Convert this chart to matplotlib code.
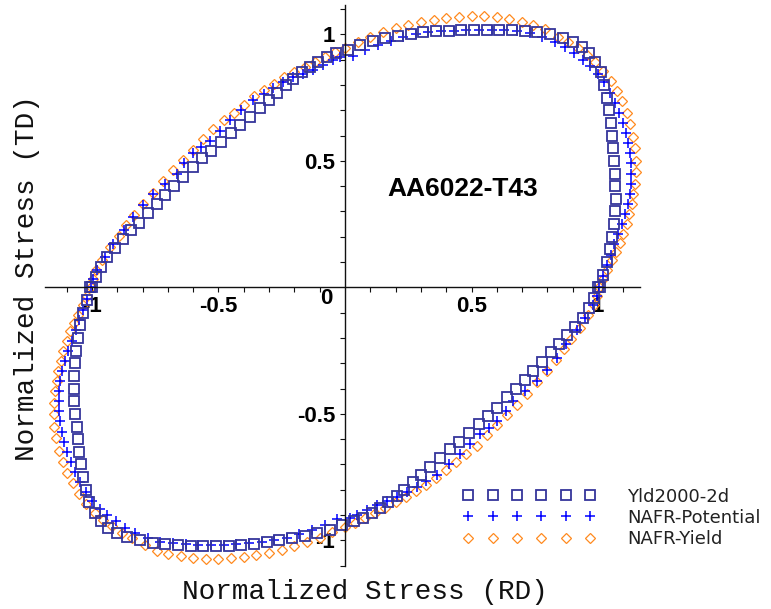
import matplotlib
matplotlib.use("Agg")
import matplotlib.pyplot as plt
from matplotlib.ticker import FixedLocator, NullFormatter
import numpy as np

plt.rcParams["axes.unicode_minus"] = False

# Yld2000-2d (squares): upper half then lower half, going counter-clockwise
yld_upper_x = [1.008, 1.02, 1.035, 1.047, 1.056, 1.063, 1.067, 1.07, 1.069, 1.067,
               1.063, 1.059, 1.055, 1.05, 1.043, 1.035, 1.025, 1.01, 0.99, 0.965,
               0.935, 0.90, 0.86, 0.81, 0.76, 0.71, 0.66, 0.61, 0.56, 0.51,
               0.46, 0.41, 0.36, 0.31, 0.26, 0.21, 0.16, 0.11, 0.06, 0.01,
               -0.035, -0.072, -0.105, -0.138, -0.17, -0.204, -0.235, -0.27, -0.30, -0.336,
               -0.375, -0.415, -0.45, -0.49, -0.53, -0.565, -0.60, -0.64, -0.675, -0.71,
               -0.745, -0.78, -0.815, -0.845, -0.876, -0.91, -0.94, -0.965, -0.985, -1.0]
yld_upper_y = [0.0, 0.05, 0.10, 0.15, 0.20, 0.25, 0.30, 0.35, 0.40, 0.45,
               0.50, 0.55, 0.60, 0.65, 0.70, 0.75, 0.80, 0.85, 0.89, 0.925,
               0.95, 0.97, 0.985, 1.0, 1.008, 1.013, 1.016, 1.018, 1.018, 1.018,
               1.016, 1.014, 1.012, 1.008, 1.003, 0.995, 0.985, 0.972, 0.958, 0.94,
               0.925, 0.91, 0.89, 0.87, 0.85, 0.825, 0.80, 0.77, 0.74, 0.71,
               0.675, 0.64, 0.61, 0.575, 0.54, 0.51, 0.475, 0.435, 0.40, 0.365,
               0.33, 0.295, 0.255, 0.225, 0.19, 0.155, 0.12, 0.08, 0.04, 0.0]
yld_lower_x = [-1.008, -1.02, -1.035, -1.047, -1.056, -1.063, -1.067, -1.07, -1.071, -1.07,
               -1.066, -1.06, -1.055, -1.05, -1.043, -1.035, -1.025, -1.01, -0.99, -0.965,
               -0.935, -0.90, -0.86, -0.81, -0.76, -0.71, -0.66, -0.61, -0.56, -0.51,
               -0.46, -0.41, -0.36, -0.31, -0.26, -0.21, -0.16, -0.11, -0.06, -0.01,
               0.035, 0.072, 0.105, 0.138, 0.17, 0.204, 0.235, 0.27, 0.30, 0.336,
               0.375, 0.415, 0.45, 0.49, 0.53, 0.565, 0.60, 0.64, 0.675, 0.71,
               0.745, 0.78, 0.815, 0.845, 0.876, 0.91, 0.94, 0.965, 0.985, 1.0]
yld_lower_y = [0.0, -0.05, -0.10, -0.15, -0.20, -0.25, -0.30, -0.35, -0.40, -0.45,
               -0.50, -0.55, -0.60, -0.65, -0.70, -0.75, -0.80, -0.85, -0.89, -0.925,
               -0.95, -0.97, -0.985, -1.0, -1.01, -1.016, -1.02, -1.022, -1.024, -1.024,
               -1.022, -1.018, -1.013, -1.008, -1.0, -0.992, -0.982, -0.97, -0.957, -0.94,
               -0.925, -0.91, -0.89, -0.87, -0.85, -0.825, -0.80, -0.77, -0.74, -0.71,
               -0.675, -0.64, -0.61, -0.575, -0.54, -0.51, -0.475, -0.435, -0.40, -0.365,
               -0.33, -0.295, -0.255, -0.225, -0.19, -0.155, -0.12, -0.08, -0.04, 0.0]

# NAFR-Potential (plus)
pot_upper_x = [1.005, 1.02, 1.035, 1.05, 1.065, 1.08, 1.095, 1.107, 1.117, 1.125,
               1.13, 1.132, 1.13, 1.126, 1.12, 1.11, 1.098, 1.083, 1.066, 1.047,
               1.025, 1.0, 0.97, 0.94, 0.905, 0.87, 0.83, 0.78, 0.73, 0.68,
               0.63, 0.58, 0.53, 0.48, 0.43, 0.38, 0.33, 0.28, 0.23, 0.18,
               0.13, 0.08, 0.03,
               -0.02, -0.046, -0.085, -0.125, -0.165, -0.204, -0.245, -0.283, -0.32, -0.362,
               -0.41, -0.455, -0.495, -0.534, -0.57, -0.60, -0.635, -0.665, -0.71, -0.758,
               -0.80, -0.837, -0.875, -0.916, -0.95, -0.98, -0.995]
pot_upper_y = [0.0, 0.045, 0.09, 0.13, 0.17, 0.21, 0.25, 0.29, 0.33, 0.37,
               0.41, 0.45, 0.49, 0.53, 0.57, 0.61, 0.65, 0.69, 0.73, 0.77,
               0.81, 0.845, 0.875, 0.90, 0.925, 0.95, 0.97, 0.99, 1.005, 1.012,
               1.016, 1.018, 1.018, 1.017, 1.015, 1.012, 1.008, 1.0, 0.99, 0.975,
               0.96, 0.94, 0.915,
               0.91, 0.90, 0.88, 0.86, 0.845, 0.83, 0.81, 0.79, 0.765, 0.74,
               0.70, 0.66, 0.62, 0.58, 0.555, 0.53, 0.49, 0.45, 0.41, 0.37,
               0.325, 0.28, 0.225, 0.17, 0.12, 0.07, 0.035]
pot_lower_x = [-1.005, -1.02, -1.035, -1.05, -1.065, -1.08, -1.095, -1.107, -1.117, -1.125,
               -1.13, -1.132, -1.13, -1.126, -1.12, -1.11, -1.098, -1.083, -1.066, -1.047,
               -1.025, -1.0, -0.97, -0.94, -0.905, -0.87, -0.83, -0.78, -0.73, -0.68,
               -0.63, -0.58, -0.53, -0.48, -0.43, -0.38, -0.33, -0.28, -0.23, -0.18,
               -0.13, -0.08, -0.03,
               0.02, 0.046, 0.085, 0.125, 0.165, 0.204, 0.245, 0.283, 0.32, 0.362,
               0.41, 0.455, 0.495, 0.534, 0.57, 0.60, 0.635, 0.665, 0.71, 0.758,
               0.80, 0.837, 0.875, 0.916, 0.95, 0.98, 0.995]
pot_lower_y = [0.0, -0.045, -0.09, -0.13, -0.17, -0.21, -0.25, -0.29, -0.33, -0.37,
               -0.41, -0.45, -0.49, -0.53, -0.57, -0.61, -0.65, -0.69, -0.73, -0.77,
               -0.81, -0.845, -0.875, -0.90, -0.925, -0.95, -0.97, -0.99, -1.005, -1.012,
               -1.016, -1.018, -1.018, -1.017, -1.015, -1.012, -1.008, -1.0, -0.99, -0.975,
               -0.96, -0.94, -0.915,
               -0.91, -0.90, -0.88, -0.86, -0.845, -0.83, -0.81, -0.79, -0.765, -0.74,
               -0.70, -0.66, -0.62, -0.58, -0.555, -0.53, -0.49, -0.45, -0.41, -0.37,
               -0.325, -0.28, -0.225, -0.17, -0.12, -0.07, -0.035]

# NAFR-Yield (diamonds)
nafr_upper_x = [1.005, 1.018, 1.035, 1.054, 1.07, 1.087, 1.10, 1.113, 1.124, 1.133,
                1.14, 1.146, 1.149, 1.15, 1.147, 1.14, 1.128, 1.113, 1.095, 1.075,
                1.05, 1.02, 0.99, 0.955, 0.92, 0.88, 0.84, 0.79, 0.745, 0.70,
                0.65, 0.60, 0.55, 0.50, 0.45, 0.40, 0.35, 0.30, 0.25, 0.20,
                0.15, 0.10, 0.05, 0.0,
                -0.04, -0.08, -0.12, -0.16, -0.20, -0.24, -0.28, -0.32, -0.36, -0.40,
                -0.44, -0.48, -0.52, -0.56, -0.60, -0.64, -0.68, -0.72, -0.76, -0.80,
                -0.835, -0.865, -0.895, -0.93, -0.96, -0.985, -0.998]
nafr_upper_y = [0.0, 0.035, 0.07, 0.108, 0.14, 0.174, 0.21, 0.25, 0.29, 0.33,
                0.37, 0.41, 0.455, 0.50, 0.55, 0.595, 0.645, 0.69, 0.735, 0.775,
                0.815, 0.855, 0.89, 0.92, 0.945, 0.97, 0.99, 1.02, 1.038, 1.05,
                1.06, 1.068, 1.072, 1.072, 1.07, 1.063, 1.057, 1.05, 1.038, 1.024,
                1.008, 0.99, 0.968, 0.947,
                0.93, 0.91, 0.89, 0.87, 0.85, 0.83, 0.805, 0.78, 0.755, 0.72,
                0.69, 0.66, 0.625, 0.585, 0.545, 0.505, 0.465, 0.42, 0.375, 0.33,
                0.285, 0.245, 0.205, 0.16, 0.11, 0.07, 0.035]
nafr_lower_x = [-1.005, -1.018, -1.035, -1.054, -1.07, -1.087, -1.10, -1.113, -1.124, -1.133,
                -1.14, -1.146, -1.149, -1.152, -1.15, -1.142, -1.13, -1.115, -1.097, -1.077,
                -1.052, -1.022, -0.99, -0.955, -0.92, -0.88, -0.84, -0.79, -0.745, -0.70,
                -0.65, -0.60, -0.55, -0.50, -0.45, -0.40, -0.35, -0.30, -0.25, -0.20,
                -0.15, -0.10, -0.05, 0.0,
                0.04, 0.08, 0.12, 0.16, 0.20, 0.24, 0.28, 0.32, 0.36, 0.40,
                0.44, 0.48, 0.52, 0.56, 0.60, 0.64, 0.68, 0.72, 0.76, 0.80,
                0.835, 0.865, 0.895, 0.93, 0.96, 0.985, 0.998]
nafr_lower_y = [0.0, -0.035, -0.07, -0.108, -0.14, -0.174, -0.21, -0.25, -0.29, -0.33,
                -0.37, -0.41, -0.455, -0.50, -0.55, -0.595, -0.645, -0.69, -0.735, -0.775,
                -0.815, -0.855, -0.89, -0.92, -0.945, -0.97, -0.99, -1.02, -1.04, -1.052,
                -1.062, -1.068, -1.072, -1.072, -1.07, -1.065, -1.058, -1.05, -1.038, -1.024,
                -1.008, -0.99, -0.968, -0.947,
                -0.93, -0.91, -0.89, -0.87, -0.85, -0.83, -0.805, -0.78, -0.755, -0.72,
                -0.69, -0.66, -0.625, -0.585, -0.545, -0.505, -0.465, -0.42, -0.375, -0.33,
                -0.285, -0.245, -0.205, -0.16, -0.11, -0.07, -0.035]

labels = ["Yld2000-2d", "NAFR-Potential", "NAFR-Yield"]
major_ticks = [-1, -0.5, 0.5, 1]
major_labels = ["-1", "-0.5", "0.5", "1"]

W, H = 771, 609
ox, oy, scale = 345.0, 287.4, 253.0  # pixel position of origin, px per unit

fig = plt.figure(figsize=(W / 100, H / 100), dpi=100)
ax = fig.add_axes([0, 0, 1, 1])
ax.set_xlim(-ox / scale, (W - ox) / scale)
ax.set_ylim((oy - H) / scale, oy / scale)
ax.patch.set_alpha(0)

c_yld = "#35359b"
c_pot = "#0000ff"
c_nafr = "#ff8a1f"

h3, = ax.plot(nafr_upper_x + nafr_lower_x, nafr_upper_y + nafr_lower_y, ls="none",
              marker="D", ms=4.6, mfc="none", mec=c_nafr, mew=0.9, label=labels[2])
h2, = ax.plot(pot_upper_x + pot_lower_x, pot_upper_y + pot_lower_y, ls="none",
              marker="+", ms=7, mec=c_pot, mew=1.1, label=labels[1])
h1, = ax.plot(yld_upper_x + yld_lower_x, yld_upper_y + yld_lower_y, ls="none",
              marker="s", ms=6.5, mfc="none", mec=c_yld, mew=1.3, label=labels[0])

# axes through the origin
for s in ["top", "right"]:
    ax.spines[s].set_visible(False)
ax.spines["left"].set_position(("data", 0))
ax.spines["bottom"].set_position(("data", 0))
ax.spines["bottom"].set_bounds((45 - ox) / scale, (640 - ox) / scale)
ax.spines["left"].set_bounds((oy - 566) / scale, (oy - 5) / scale)
for s in ["left", "bottom"]:
    ax.spines[s].set_linewidth(1.0)
    ax.spines[s].set_color("#111111")

minor = [v / 10 for v in range(-11, 12) if v not in (-10, -5, 0, 5, 10)]
tick_font = dict(family="Liberation Sans", weight="bold", size=16)
ax.xaxis.set_major_locator(FixedLocator(major_ticks))
ax.yaxis.set_major_locator(FixedLocator(major_ticks))
ax.xaxis.set_minor_locator(FixedLocator(minor))
ax.yaxis.set_minor_locator(FixedLocator(minor))
ax.set_xticklabels(major_labels, fontdict=tick_font)
ax.set_yticklabels(major_labels, fontdict=tick_font)
ax.xaxis.set_minor_formatter(NullFormatter())
ax.yaxis.set_minor_formatter(NullFormatter())
ax.tick_params(which="both", direction="out", length=3.6, width=0.8, color="#111111")
ax.tick_params(axis="x", which="major", pad=2.5)
ax.tick_params(axis="y", which="major", pad=3.5)

ax.text(-0.075, -0.043, "0", ha="center", va="center", **tick_font)
ax.text(0.466, 0.389, "AA6022-T43", ha="center", va="center",
        family="Liberation Sans", weight="bold", size=19)

lab_font = dict(family="Liberation Mono", size=20, color="#111111")
fig.text(365 / W, 1 - 592 / H, "Normalized Stress (RD)", ha="center", va="center", **lab_font)
fig.text(27 / W, 1 - 278 / H, "Normalized Stress (TD)", ha="center", va="center",
         rotation=90, **lab_font)

leg = ax.legend(handles=[h1, h2, h3], loc="upper left",
                bbox_to_anchor=(462.9 / W, 1 - 487.5 / H), bbox_transform=fig.transFigure,
                frameon=False, numpoints=6, handlelength=7.34, handletextpad=1.75,
                labelspacing=0.18, borderpad=0, borderaxespad=0,
                prop=dict(family="DejaVu Sans", size=13))
for t in leg.get_texts():
    t.set_color("#222222")

fig.savefig("out.png", dpi=100)
